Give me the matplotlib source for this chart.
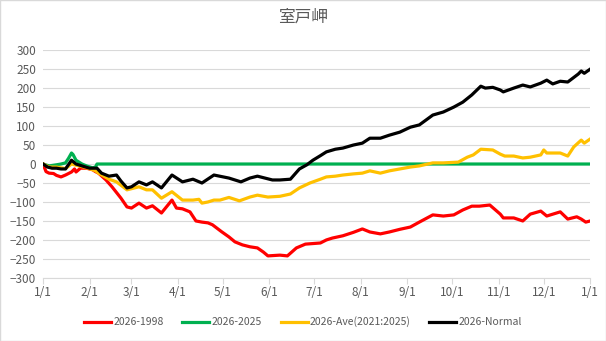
import matplotlib

matplotlib.use("Agg")
import matplotlib.pyplot as plt
from matplotlib.patches import Rectangle

plt.rcParams["font.family"] = ["Noto Sans CJK JP", "DejaVu Sans"]

TITLE = "室戸岬"
MONTH_DAYS = [0, 31, 59, 90, 120, 151, 181, 212, 243, 273, 304, 334, 365]
MONTH_LABELS = ["1/1", "2/1", "3/1", "4/1", "5/1", "6/1", "7/1",
                "8/1", "9/1", "10/1", "11/1", "12/1", "1/1"]

# day of year -> cumulative difference
red_days = [0, 2, 4, 7, 9, 12, 15, 19, 21, 22, 25, 29, 33, 35, 37, 42, 46, 52,
            56, 59, 64, 69, 73, 79, 86, 89, 93, 98, 102, 106, 110, 113, 119,
            124, 128, 133, 138, 143, 147, 150, 158, 163, 169, 175, 185, 189,
            193, 200, 207, 213, 218, 225, 231, 238, 245, 251, 260, 267, 274,
            280, 286, 291, 298, 305, 307, 314, 320, 325, 332, 336, 345, 350,
            356, 359, 362, 365]
red_vals = [0, -20, -24, -25, -30, -34, -29, -21, -13, -21, -11, -11, -15,
            -20, -24, -42, -60, -90, -113, -116, -103, -116, -110, -129, -95,
            -116, -118, -126, -150, -153, -155, -160, -178, -192, -205, -213,
            -218, -221, -232, -242, -240, -242, -221, -211, -208, -200, -195,
            -189, -180, -171, -179, -184, -179, -172, -166, -153, -134, -137,
            -134, -121, -111, -111, -108, -132, -142, -142, -150, -132, -124,
            -137, -126, -145, -139, -145, -153, -150]

green_days = [0, 4, 9, 12, 15, 17, 19, 20, 22, 26, 29, 33, 35, 36, 365]
green_vals = [0, -5, -2, 0, 3, 15, 29, 25, 10, 0, -5, -10, -8, 0, 0]

gold_days = [0, 4, 9, 12, 15, 19, 22, 24, 29, 33, 35, 37, 44, 49, 56, 59, 64,
             69, 73, 79, 86, 93, 100, 104, 106, 110, 114, 118, 124, 131, 138,
             143, 150, 158, 165, 171, 178, 185, 189, 195, 200, 207, 213, 218,
             225, 231, 238, 245, 251, 260, 267, 277, 283, 287, 292, 296, 300,
             305, 308, 314, 320, 325, 332, 334, 336, 345, 350, 354, 359, 361,
             365]
gold_vals = [0, -8, -8, -10, -12, 0, -3, -5, -10, -15, -18, -24, -40, -47,
             -68, -65, -60, -68, -68, -90, -73, -95, -95, -93, -103, -100, -95,
             -95, -88, -97, -87, -82, -87, -85, -79, -63, -50, -40, -34, -32,
             -29, -26, -24, -18, -24, -18, -13, -8, -5, 3, 3, 5, 18, 24, 39,
             38, 37, 26, 21, 21, 16, 18, 24, 37, 29, 29, 21, 45, 63, 55, 66]

black_days = [0, 3, 6, 9, 12, 15, 19, 22, 26, 31, 36, 39, 44, 49, 52, 56, 59,
              64, 69, 73, 79, 86, 93, 100, 106, 114, 124, 132, 138, 143, 153,
              158, 165, 171, 176, 180, 185, 189, 195, 200, 207, 213, 218, 225,
              231, 238, 245, 251, 260, 267, 274, 280, 286, 292, 295, 300, 305,
              307, 314, 320, 325, 332, 336, 340, 345, 350, 357, 359, 361, 365]
black_vals = [0, -8, -11, -11, -13, -13, 10, 0, -5, -11, -11, -24, -32, -29,
              -45, -63, -60, -47, -55, -47, -63, -29, -47, -40, -50, -29, -37,
              -47, -37, -32, -42, -42, -40, -13, -2, 10, 22, 32, 39, 42, 50,
              55, 68, 68, 76, 84, 97, 103, 129, 137, 150, 163, 182, 205, 200,
              202, 195, 190, 200, 208, 203, 213, 221, 211, 218, 216, 237, 245,
              239, 250]

SERIES = [
    ("2026-1998", red_days, red_vals, "#ff0000"),
    ("2026-2025", green_days, green_vals, "#00b050"),
    ("2026-Ave(2021:2025)", gold_days, gold_vals, "#ffc000"),
    ("2026-Normal", black_days, black_vals, "#000000"),
]

TEXT_COLOR = "#595959"
GRID_COLOR = "#d9d9d9"


def main() -> None:
    fig = plt.figure(figsize=(6.06, 3.41), dpi=100)
    fig.patches.append(
        Rectangle((0, 0), 1, 1, transform=fig.transFigure, fill=False,
                  edgecolor=GRID_COLOR, linewidth=1.0)
    )
    ax = fig.add_axes([0.071, 0.185, 0.903, 0.668])

    for label, days, vals, color in SERIES:
        ax.plot(days, vals, color=color, linewidth=2.3, label=label,
                solid_joinstyle="round")

    ax.set_xlim(0, 365)
    ax.set_ylim(-300, 300)
    ax.set_yticks(range(-300, 301, 50))
    ax.set_xticks(MONTH_DAYS)
    ax.set_xticklabels(MONTH_LABELS)
    ax.grid(axis="y", color=GRID_COLOR, linewidth=0.8)
    ax.set_axisbelow(True)
    for side in ("top", "right", "left"):
        ax.spines[side].set_visible(False)
    ax.spines["bottom"].set_color(GRID_COLOR)
    ax.tick_params(axis="y", length=0, pad=5, labelsize=8.5, labelcolor=TEXT_COLOR)
    ax.tick_params(axis="x", length=4, color=GRID_COLOR, pad=2, labelsize=8.5,
                   labelcolor=TEXT_COLOR)

    fig.suptitle(TITLE, y=0.975, fontsize=12, color=TEXT_COLOR)
    fig.legend(loc="center", bbox_to_anchor=(0.5, 0.056), ncol=4, frameon=False,
               fontsize=7.5, labelcolor=TEXT_COLOR, handlelength=2.6,
               handletextpad=0.2, columnspacing=1.8)

    fig.savefig("out.png", dpi=100)
    plt.close(fig)


if __name__ == "__main__":
    main()
